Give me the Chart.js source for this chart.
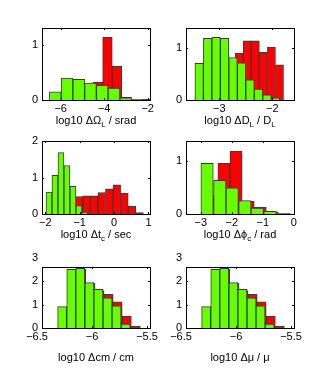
<!DOCTYPE html>
<html>
<head>
<meta charset="utf-8">
<script src="https://cdn.jsdelivr.net/npm/chart.js@4.4.1/dist/chart.umd.min.js"></script>
<style>
    body { margin: 0; background: #fff; width: 327px; height: 383px; position: relative; overflow: hidden; font-family: "Liberation Sans", Arial, sans-serif; }
    .panel { position: absolute; }
    .xlabel { position: absolute; width: 160px; margin-left: -80px; font-size: 11px; line-height: 14px; text-align: center; white-space: nowrap; color: #000; }
    .xlabel sub { font-size: 8px; vertical-align: -3px; line-height: 0; }
</style>
</head>
<body>
<script>
// histogram bin centres and heights
const omegaGreenX = [-6.25, -5.71, -5.17, -4.63, -4.09, -3.55, -3.01, -2.47];
const omegaGreenY = [0.15, 0.40, 0.38, 0.31, 0.27, 0.22, 0.04, 0.01];
const omegaRedX = [-5.61, -5.17, -4.73, -4.29, -3.85, -3.41, -2.97, -2.53, -2.09];
const omegaRedY = [0.04, 0.08, 0.20, 0.33, 1.15, 0.62, 0.05, 0.01, 0.01];

const distGreenX = [-3.38, -3.22, -3.06, -2.90, -2.74, -2.58, -2.42, -2.26, -2.10, -1.94];
const distGreenY = [0.71, 1.19, 1.21, 1.19, 0.82, 0.72, 0.39, 0.21, 0.10, 0.04];
const distRedX = [-3.384, -3.232, -3.08, -2.928, -2.776, -2.624, -2.472, -2.32, -2.168, -2.016, -1.864];
const distRedY = [0.05, 0.12, 0.25, 0.42, 0.62, 0.90, 1.14, 1.14, 0.92, 1.02, 0.68];

const tcGreenX = [-1.893, -1.719, -1.545, -1.371, -1.197, -1.023, -0.849];
const tcGreenY = [0.60, 1.06, 1.68, 1.33, 0.76, 0.23, 0.05];
const tcRedX = [-1.68, -1.46, -1.24, -1.02, -0.80, -0.58, -0.36, -0.14, 0.08, 0.30, 0.52, 0.74];
const tcRedY = [0.03, 0.12, 0.35, 0.48, 0.50, 0.50, 0.59, 0.69, 0.80, 0.57, 0.22, 0.04];

const phiGreenX = [-2.80, -2.39, -1.99, -1.58, -1.18, -0.77, -0.37];
const phiGreenY = [0.95, 0.63, 0.49, 0.25, 0.11, 0.05, 0.01];
const phiRedX = [-2.645, -2.255, -1.865, -1.475, -1.085, -0.695, -0.305];
const phiRedY = [0.35, 0.95, 1.18, 0.24, 0.13, 0.04, 0.01];

const cmGreenX = [-6.272, -6.189, -6.107, -6.024, -5.942, -5.859, -5.777, -5.694];
const cmGreenY = [0.91, 2.50, 2.54, 1.94, 1.65, 1.29, 0.94, 0.17];
const cmRedX = [-6.262, -6.179, -6.097, -6.014, -5.932, -5.849, -5.767, -5.684, -5.602];
const cmRedY = [0.88, 2.45, 2.50, 1.90, 1.60, 1.43, 1.12, 0.51, 0.085];

const muGreenX = [-6.272, -6.189, -6.107, -6.024, -5.942, -5.859, -5.777, -5.694];
const muGreenY = [0.91, 2.50, 2.54, 1.94, 1.65, 1.29, 0.94, 0.17];
const muRedX = [-6.262, -6.179, -6.097, -6.014, -5.932, -5.849, -5.767, -5.684, -5.602];
const muRedY = [0.88, 2.45, 2.50, 1.90, 1.60, 1.43, 1.12, 0.51, 0.085];

// tick labels
const omegaXTicks = [-6, -4, -2];
const distXTicks = [-3, -2];
const tcXTicks = [-2, -1, 0, 1];
const phiXTicks = [-3, -2, -1, 0];
const cmXTicks = [-6.5, -6, -5.5];
const oneTicks = [0, 1];
const twoTicks = [0, 1, 2];
const threeTicks = [0, 1, 2, 3];

const GREEN = 'rgb(102,255,0)';
const RED = 'rgb(255,0,0)';
const EDGE = '#3a3a3a';

const fmt = (v) => String(v).replace('-', '\u2212');
const pairs = (xs, ys) => xs.map((x, i) => ({ x, y: ys[i] }));

// box + small inward ticks, MATLAB style
const boxPlugin = {
    id: 'box',
    afterDraw(chart) {
        const { ctx, chartArea: a } = chart;
        const xs = chart.scales.x, ys = chart.scales.y;
        ctx.save();
        ctx.strokeStyle = '#000';
        ctx.lineWidth = 1;
        ctx.strokeRect(a.left + 0.5, a.top + 0.5, a.width, a.height);
        ctx.beginPath();
        xs.ticks.forEach((t) => {
            const p = Math.round(xs.getPixelForValue(t.value)) + 0.5;
            if (p < a.left || p > a.right) return;
            ctx.moveTo(p, a.bottom); ctx.lineTo(p, a.bottom - 2);
            ctx.moveTo(p, a.top); ctx.lineTo(p, a.top + 2);
        });
        ys.ticks.forEach((t) => {
            const p = Math.round(ys.getPixelForValue(t.value)) + 0.5;
            if (p < a.top || p > a.bottom) return;
            ctx.moveTo(a.left, p); ctx.lineTo(a.left + 2, p);
            ctx.moveTo(a.right, p); ctx.lineTo(a.right - 2, p);
        });
        ctx.stroke();
        ctx.restore();
    },
};

function makeHist(p) {
    const div = document.createElement('div');
    div.className = 'panel';
    div.style.left = (p.left - 30) + 'px';
    div.style.top = (p.top - 20) + 'px';
    const canvas = document.createElement('canvas');
    canvas.width = p.w + 50;
    canvas.height = p.h + 45;
    div.appendChild(canvas);
    document.body.appendChild(div);

    const lab = document.createElement('div');
    lab.className = 'xlabel';
    lab.style.left = (p.left + p.w / 2) + 'px';
    lab.style.top = p.labelTop + 'px';
    lab.innerHTML = p.label;
    document.body.appendChild(lab);

    const font = { family: '"Liberation Sans", Arial, sans-serif', size: 11 };
    const barStyle = { borderColor: EDGE, borderWidth: 1, grouped: false, barPercentage: 1, categoryPercentage: 1 };
    const setXTicks = (s) => { s.ticks = p.xticks.map((value) => ({ value })); };

    return new Chart(canvas, {
        type: 'bar',
        data: {
            datasets: [
                { ...barStyle, data: pairs(p.gx, p.gy), backgroundColor: GREEN, xAxisID: 'x' },
                { ...barStyle, data: pairs(p.rx, p.ry), backgroundColor: RED, xAxisID: 'xr' },
            ],
        },
        options: {
            responsive: false,
            animation: false,
            layout: { padding: { left: 5, top: 20, right: 20, bottom: 0 } },
            plugins: { legend: { display: false }, tooltip: { enabled: false } },
            scales: {
                x: {
                    type: 'linear', min: p.xmin, max: p.xmax, offset: false, bounds: 'data',
                    grid: { display: false, drawTicks: false }, border: { display: false },
                    ticks: { font, color: '#000', padding: 2, autoSkip: false, maxRotation: 0, includeBounds: false, callback: fmt },
                    afterBuildTicks: setXTicks,
                    afterFit: (s) => { s.height = 25; },
                },
                // second x axis so the red bins get their own bar width
                xr: {
                    type: 'linear', min: p.xmin, max: p.xmax, offset: false, bounds: 'data', display: false,
                    ticks: { includeBounds: false },
                    afterBuildTicks: setXTicks,
                },
                y: {
                    min: 0, max: p.ymax, bounds: 'data',
                    grid: { display: false, drawTicks: false }, border: { display: false },
                    ticks: { font, color: '#000', padding: 4, autoSkip: false, includeBounds: false, callback: fmt },
                    afterBuildTicks: (s) => { s.ticks = p.yticks.map((value) => ({ value })); },
                    afterFit: (s) => { s.width = 25; },
                },
            },
        },
        plugins: [boxPlugin],
    });
}

makeHist({ left: 42, top: 28, w: 108, h: 72, xmin: -6.86, xmax: -1.894, ymax: 1.32,
    xticks: omegaXTicks, yticks: oneTicks, gx: omegaGreenX, gy: omegaGreenY, rx: omegaRedX, ry: omegaRedY,
    labelTop: 113, label: 'log10 \u0394\u03A9<sub>L</sub> / srad' });
makeHist({ left: 186, top: 28, w: 108, h: 72, xmin: -3.628, xmax: -1.59, ymax: 1.39,
    xticks: distXTicks, yticks: oneTicks, gx: distGreenX, gy: distGreenY, rx: distRedX, ry: distRedY,
    labelTop: 113, label: 'log10 \u0394D<sub>L</sub> / D<sub>L</sub>' });
makeHist({ left: 42, top: 141, w: 108, h: 73, xmin: -2.096, xmax: 1.044, ymax: 2.0,
    xticks: tcXTicks, yticks: twoTicks, gx: tcGreenX, gy: tcGreenY, rx: tcRedX, ry: tcRedY,
    labelTop: 227, label: 'log10 \u0394t<sub>c</sub> / sec' });
makeHist({ left: 186, top: 141, w: 108, h: 73, xmin: -3.48, xmax: 0.004, ymax: 1.37,
    xticks: phiXTicks, yticks: oneTicks, gx: phiGreenX, gy: phiGreenY, rx: phiRedX, ry: phiRedY,
    labelTop: 227, label: 'log10 \u0394\u03D5<sub>c</sub> / rad' });
makeHist({ left: 42, top: 267, w: 108, h: 61, xmin: -6.455, xmax: -5.473, ymax: 2.6,
    xticks: cmXTicks, yticks: threeTicks, gx: cmGreenX, gy: cmGreenY, rx: cmRedX, ry: cmRedY,
    labelTop: 350, label: 'log10 \u0394cm / cm' });
makeHist({ left: 186, top: 267, w: 108, h: 61, xmin: -6.455, xmax: -5.473, ymax: 2.6,
    xticks: cmXTicks, yticks: threeTicks, gx: muGreenX, gy: muGreenY, rx: muRedX, ry: muRedY,
    labelTop: 350, label: 'log10 \u0394\u03BC / \u03BC' });
</script>
</body>
</html>
